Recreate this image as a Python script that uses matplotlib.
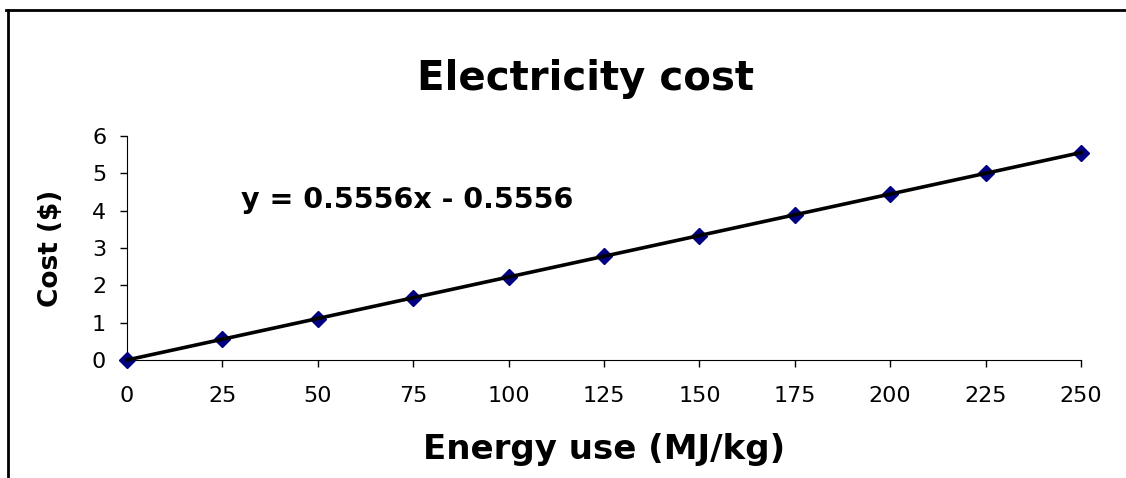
import matplotlib.pyplot as plt
from matplotlib.lines import Line2D

plt.rcParams['font.family'] = ['DejaVu Sans']

# data
energy = [0, 25, 50, 75, 100, 125, 150, 175, 200, 225, 250]
cost = [0, 0.5556, 1.1111, 1.6667, 2.2222, 2.7778, 3.3333, 3.8889, 4.4444, 5.0, 5.5556]
y_ticks = [0, 1, 2, 3, 4, 5, 6]
equation = 'y = 0.5556x - 0.5556'

fig = plt.figure(figsize=(11.26, 4.78), dpi=100)
ax = fig.add_axes([0.1128, 0.2469, 0.8472, 0.4686])

ax.plot(energy, cost, linestyle='none', marker='D', markersize=8.5,
        color='#000080', zorder=3, clip_on=False)
ax.plot(energy, cost, color='black', linewidth=2.6, zorder=4, clip_on=False)

ax.set_xlim(0, 250)
ax.set_ylim(0, 6)
ax.set_xticks(energy)
ax.set_yticks(y_ticks)
ax.tick_params(labelsize=16, length=5, width=1, colors='black', direction='out')
ax.tick_params(axis='x', pad=14)
ax.tick_params(axis='y', pad=10)
ax.spines['top'].set_visible(False)
ax.spines['right'].set_visible(False)

ax.set_xlabel('Energy use (MJ/kg)', fontsize=24.5, fontweight='bold', labelpad=19)
ax.set_ylabel('Cost ($)', fontsize=19, fontweight='bold', labelpad=20)
ax.set_title('Electricity cost', fontsize=29, fontweight='bold', pad=33, x=0.481)
ax.text(30, 4.28, equation, fontsize=20.5, fontweight='bold', va='center', ha='left')

# chart border (top and left edges visible)
fig.add_artist(Line2D([0.0053, 1.0], [0.979, 0.979], color='black', linewidth=2))
fig.add_artist(Line2D([0.0067, 0.0067], [0.0, 0.979], color='black', linewidth=2))

fig.savefig('out.png', dpi=100)
